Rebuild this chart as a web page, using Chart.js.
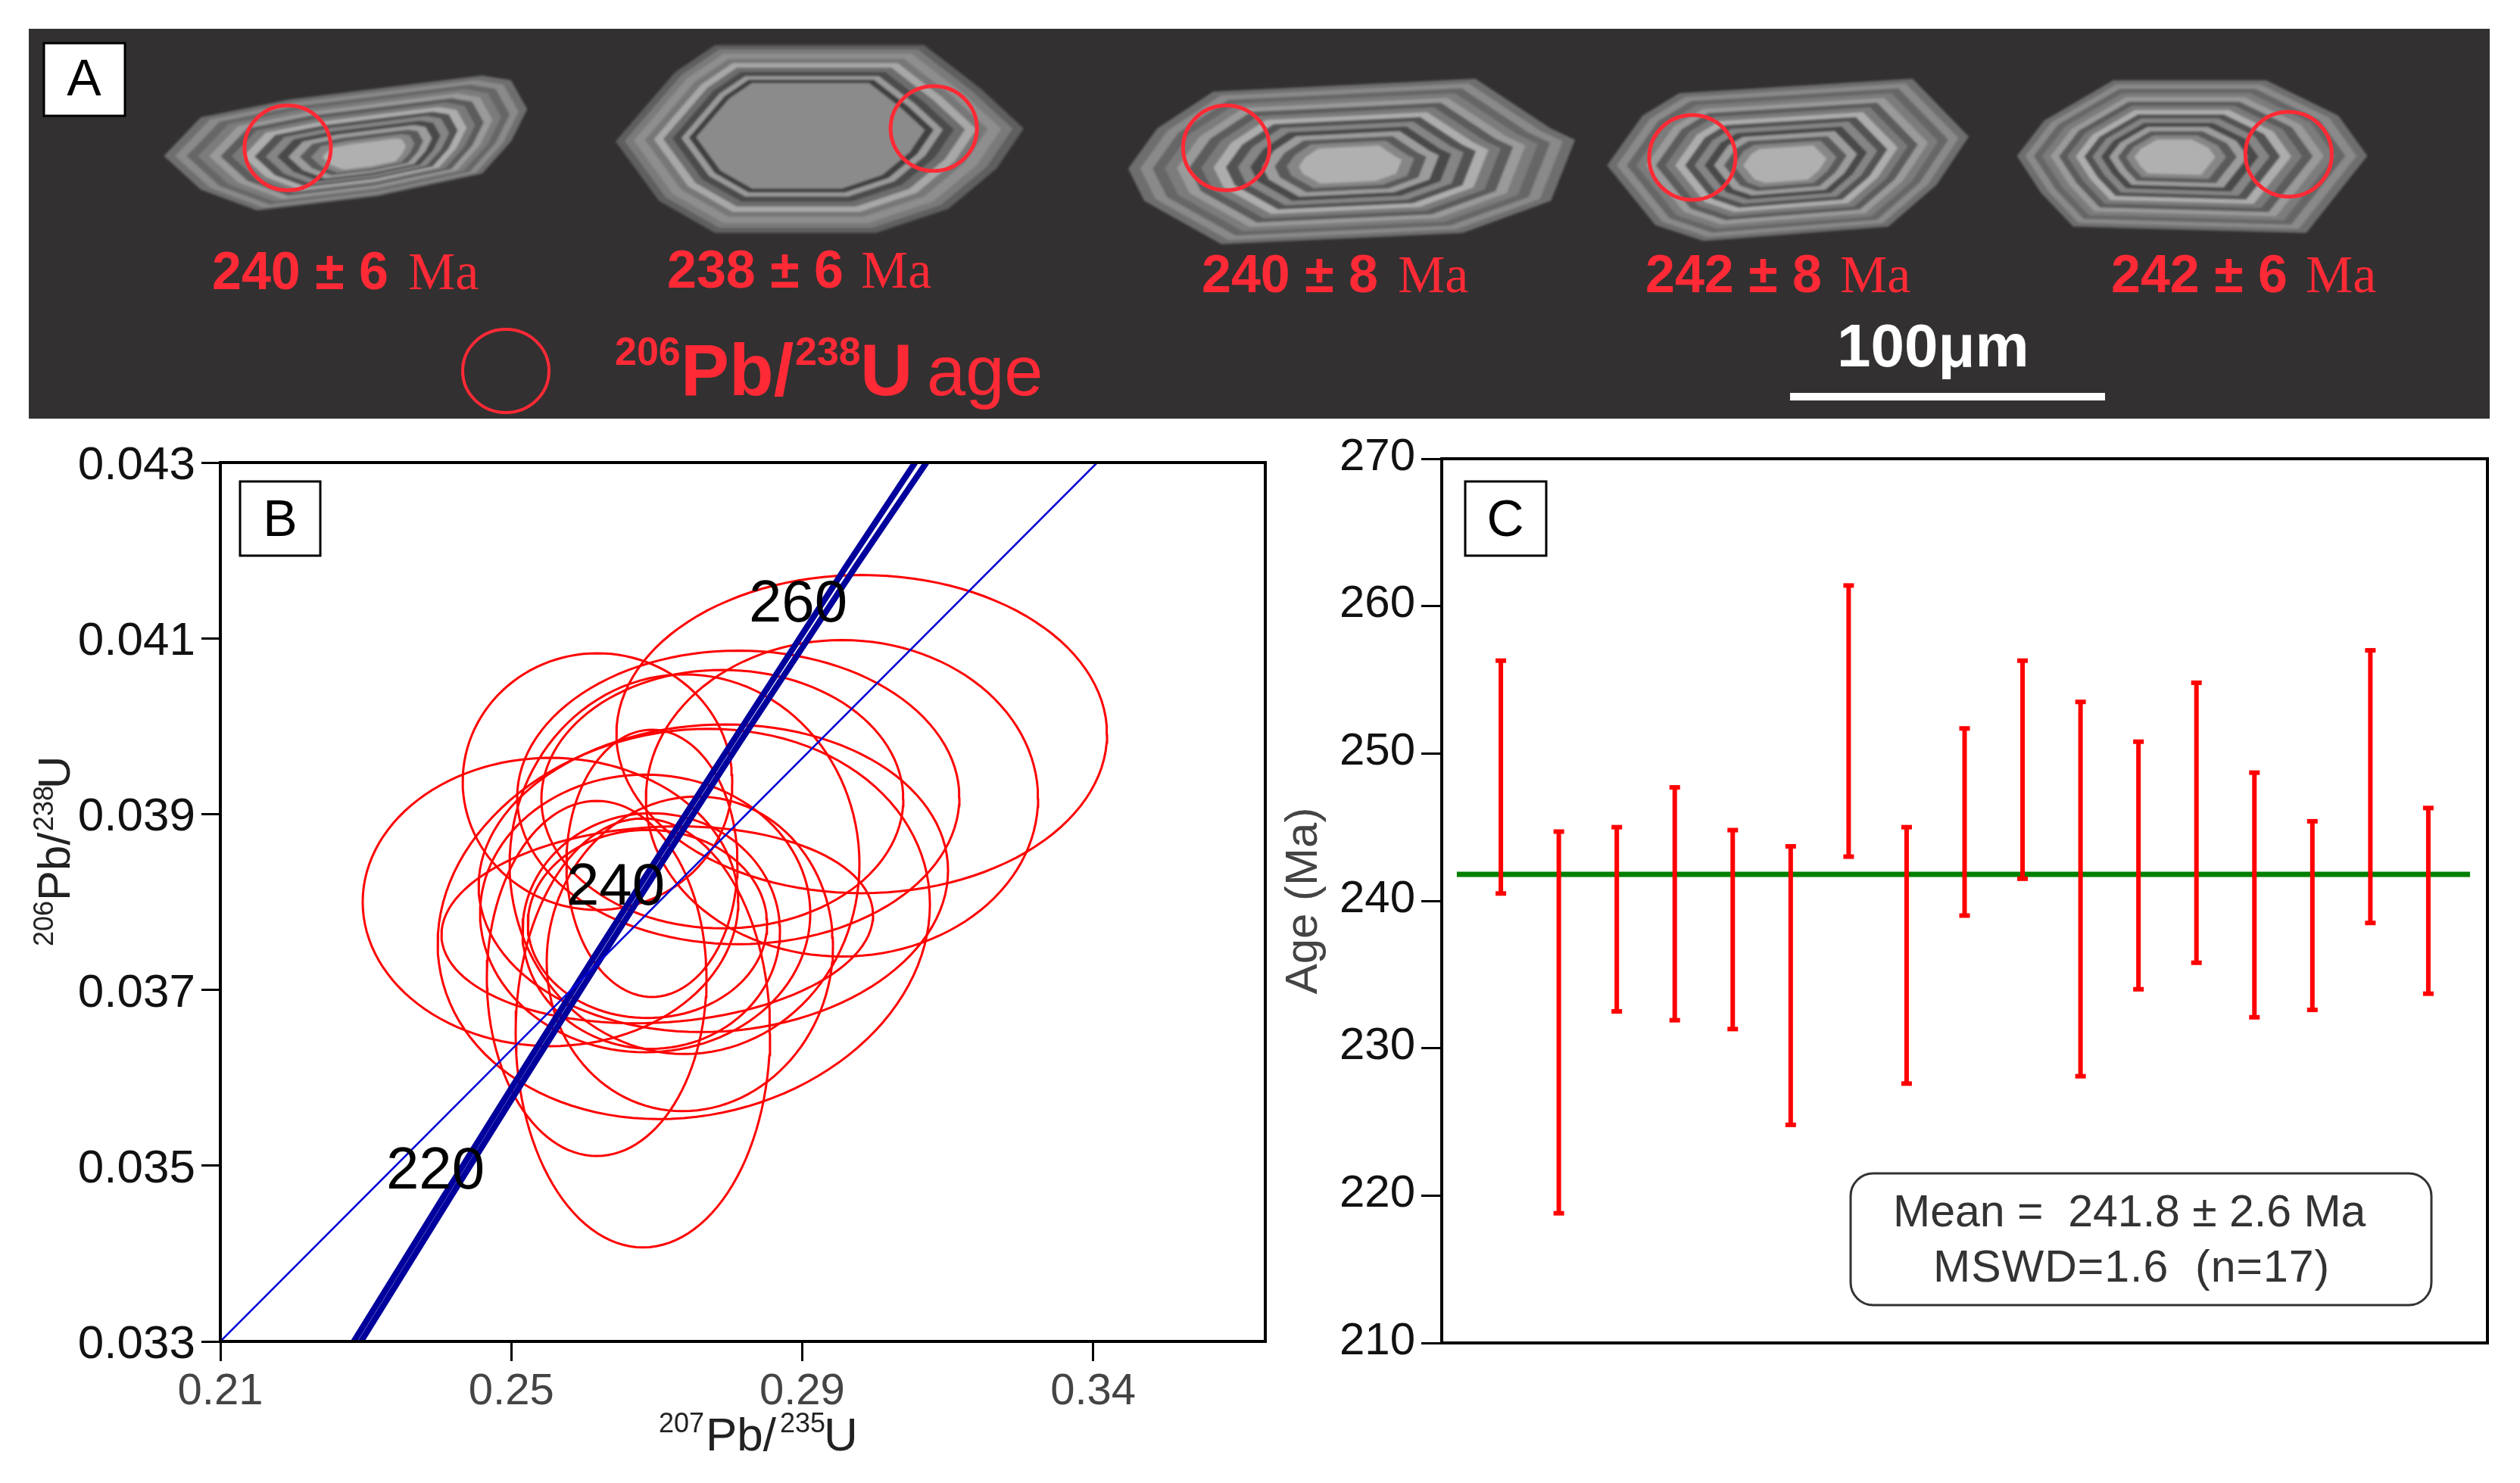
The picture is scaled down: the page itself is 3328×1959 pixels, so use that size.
<!DOCTYPE html>
<html>
<head>
<meta charset="utf-8">
<title>Zircon U-Pb</title>
<script src="https://cdn.jsdelivr.net/npm/chart.js@4"></script>
<style>
html, body { margin: 0; padding: 0; background: #fff; width: 3328px; height: 1959px; overflow: hidden; }
canvas { position: absolute; display: block; }
#chartB { left: 0; top: 560px; }
#chartC { left: 1680px; top: 560px; }
#overlay { position: absolute; left: 0; top: 0; pointer-events: none; font-family: "Liberation Sans", Arial, sans-serif; }
</style>
</head>
<body>
<canvas id="chartB" width="1700" height="1399"></canvas>
<canvas id="chartC" width="1648" height="1399"></canvas>
<svg id="overlay" width="3328" height="1959" viewBox="0 0 3328 1959" xmlns="http://www.w3.org/2000/svg">
  <defs><filter id="soft"><feGaussianBlur stdDeviation="1.8"/></filter></defs>
  <rect x="38" y="38" width="3250" height="515" fill="#333031"/>
  <g id="grains" filter="url(#soft)"></g>
  <g id="spots" fill="none" stroke="#ff2a35" stroke-width="5"></g>
  <rect x="58" y="57" width="107" height="96" fill="#fff" stroke="#000" stroke-width="3"/>
  <text x="111" y="126" font-size="68" text-anchor="middle">A</text>

  <g fill="#ff2a35" id="ages"></g>

  <ellipse cx="668" cy="490" rx="57" ry="55" fill="none" stroke="#ff2a35" stroke-width="4"/>
  <g fill="#ff2a35">
    <text x="812" y="482" font-size="52" font-weight="bold">206</text>
    <text x="899" y="522" font-size="96" font-weight="bold">Pb/</text>
    <text x="1050" y="482" font-size="52" font-weight="bold">238</text>
    <text x="1136" y="522" font-size="96" font-weight="bold">U</text>
    <text x="1224" y="522" font-size="92">age</text>
  </g>
  <text x="2426" y="484" font-size="80" font-weight="bold" fill="#fff">100μm</text>
  <rect x="2364" y="519" width="416" height="10" fill="#fff"/>

  <rect x="317" y="636" width="106" height="98" fill="#fff" stroke="#000" stroke-width="3"/>
  <text x="370" y="708" font-size="68" text-anchor="middle">B</text>
  <text font-size="78" text-anchor="middle" x="575" y="1570">220</text>
  <text font-size="78" text-anchor="middle" x="813" y="1195">240</text>
  <text font-size="78" text-anchor="middle" x="1054" y="821">260</text>
  <g transform="translate(92,1250) rotate(-90)" fill="#222">
    <text x="0" y="-22" font-size="36">206</text>
    <text x="60" y="0" font-size="60">Pb/</text>
    <text x="152" y="-22" font-size="36">238</text>
    <text x="208" y="0" font-size="60">U</text>
  </g>
  <g fill="#222">
    <text x="870" y="1892" font-size="36">207</text>
    <text x="932" y="1916" font-size="62">Pb/</text>
    <text x="1030" y="1892" font-size="36">235</text>
    <text x="1088" y="1916" font-size="62">U</text>
  </g>

  <rect x="1935" y="636" width="107" height="98" fill="#fff" stroke="#000" stroke-width="3"/>
  <text x="1988" y="708" font-size="68" text-anchor="middle">C</text>
  <rect x="2444" y="1550" width="767" height="174" rx="30" ry="30" fill="#fff" stroke="#333" stroke-width="3"/>
  <text x="2500" y="1620" font-size="59" fill="#333" xml:space="preserve">Mean =  241.8 ± 2.6 Ma</text>
  <text x="2553" y="1693" font-size="59" letter-spacing="1" fill="#333" xml:space="preserve">MSWD=1.6  (n=17)</text>
</svg>
<script>
// panel B, concordia diagram
const concordiaY = [0.033, 0.03464, 0.03588, 0.03734, 0.03846, 0.03979, 0.04182, 0.043];
const concordiaLeftX = [0.22834, 0.24063, 0.25000, 0.26112, 0.26976, 0.28017, 0.29606, 0.30552];
const concordiaRightX = [0.22934, 0.24163, 0.25100, 0.26216, 0.27080, 0.28121, 0.29738, 0.30708];
const chordX = [0.21, 0.33056];
const chordY = [0.033, 0.043];

const ellipseCenterX = [0.29818, 0.29547, 0.28121, 0.26185, 0.27902, 0.27382, 0.25539, 0.26809, 0.26174,
    0.27372, 0.27455, 0.27778, 0.27007, 0.26841, 0.26924, 0.26872, 0.26934];
const ellipseCenterY = [0.03991, 0.03918, 0.03919, 0.03937, 0.03917, 0.03843, 0.03800, 0.03651, 0.03713,
    0.03775, 0.03741, 0.03827, 0.03774, 0.03787, 0.03767, 0.03775, 0.03844];
const ellipseSigmaX = [0.03373, 0.02696, 0.03040, 0.01853, 0.02488, 0.02405, 0.02582, 0.01749, 0.01510,
    0.03384, 0.01968, 0.03227, 0.02967, 0.02270, 0.01770, 0.01645, 0.01176];
const ellipseSigmaY = [0.00181, 0.00180, 0.00167, 0.00146, 0.00147, 0.00216, 0.00164, 0.00244, 0.00202,
    0.00222, 0.00179, 0.00175, 0.00112, 0.00158, 0.00134, 0.00107, 0.00152];
const ellipseRho = [0, 0, 0, 0, 0, 0, 0, 0, 0, 0.1, 0.05, 0.05, 0.1, 0, 0, 0, 0];

const xTickValues = [0.21, 0.25, 0.29, 0.33];
const xTickLabels = ["0.21", "0.25", "0.29", "0.34"];

// panel C, ages
const spotNumber = [1, 2, 3, 4, 5, 6, 7, 8, 9, 10, 11, 12, 13, 14, 15, 16, 17];
const ageHigh = [256.3, 244.7, 245.0, 247.7, 244.8, 243.7, 261.4, 245.0, 251.7, 256.3, 253.5, 250.8, 254.8, 248.7, 245.4, 257.0, 246.3];
const ageLow = [240.5, 218.8, 232.5, 231.9, 231.3, 224.8, 243.0, 227.6, 239.0, 241.5, 228.1, 234.0, 235.8, 232.1, 232.6, 238.5, 233.7];
const meanX = [0.24, 17.72];
const meanAge = [241.8, 241.8];

// panel A, picture
const grainOutlines = [
    [[102,97],[125,73],[180,62],[300,47],[318,50],[328,68],[318,88],[300,108],[235,122],[160,131],[125,118]],
    [[383,88],[420,45],[445,28],[575,28],[610,55],[637,80],[620,105],[590,130],[545,145],[445,145],[410,125]],
    [[702,105],[720,80],[755,57],[918,49],[965,80],[980,87],[965,125],[910,145],[760,152],[712,125]],
    [[1000,103],[1022,72],[1045,58],[1190,49],[1225,85],[1205,115],[1175,141],[1060,150],[1030,140]],
    [[1255,97],[1272,75],[1315,50],[1410,50],[1455,72],[1473,97],[1435,145],[1290,141],[1270,120]]
];
const grainCores = [[230,98],[497,82],[840,103],[1110,103],[1350,98]];
const ringColors = ["#6e6e6e", "#8a8a8a", "#666", "#7c7c7c", "#9a9a9a", "#5c5c5c", "#7a7a7a", "#adadad", "#525252", "#858585", "#4a4a4a", "#9c9c9c", "#5a5a5a", "#868686", "#b0b0b0"];
const paleCoreColors = ["#5f5f5f", "#7a7a7a", "#8e8e8e", "#777", "#a8a8a8", "#6d6d6d", "#4c4c4c", "#9a9a9a", "#3f3f3f", "#8b8b8b"];
const paleCoreScale = [1, 0.95, 0.9, 0.84, 0.79, 0.74, 0.69, 0.64, 0.6, 0.56];
const spotCenters = [[179,92],[581,80],[763,92],[1053,98],[1424,96]];
const ageNumbers = ["240 ± 6", "238 ± 6", "240 ± 8", "242 ± 8", "242 ± 6"];
const ageNumberX = [280, 881, 1587, 2173, 2788];
const ageUnitX = [539, 1137, 1846, 2430, 3045];
const ageBaseline = [382, 380, 386, 386, 386];

const SVG_NS = "http://www.w3.org/2000/svg";
const K = 3328 / 1568;

function svgEl(parent, name, attrs, text) {
    const el = document.createElementNS(SVG_NS, name);
    for (const a in attrs) el.setAttribute(a, attrs[a]);
    if (text) el.textContent = text;
    parent.appendChild(el);
}

grainOutlines.forEach((outline, g) => {
    const cx = grainCores[g][0], cy = grainCores[g][1];
    const colors = g === 1 ? paleCoreColors : ringColors;
    colors.forEach((color, i) => {
        const f = g === 1 ? paleCoreScale[i] : 1 - i * 0.055;
        const pts = outline.map(p => ((cx + (p[0] - cx) * f) * K) + "," + ((cy + (p[1] - cy) * f) * K)).join(" ");
        svgEl(document.getElementById("grains"), "polygon", { points: pts, fill: color });
    });
});
spotCenters.forEach(c => {
    svgEl(document.getElementById("spots"), "ellipse", { cx: c[0] * K, cy: c[1] * K, rx: 57, ry: 56 });
});
ageNumbers.forEach((t, i) => {
    const g = document.getElementById("ages");
    svgEl(g, "text", { x: ageNumberX[i], y: ageBaseline[i], "font-size": 70, "font-weight": "bold" }, t);
    svgEl(g, "text", { x: ageUnitX[i], y: ageBaseline[i], "font-size": 70, "font-family": "Liberation Serif" }, "Ma");
});

// outline of an error ellipse from its centre, half widths and correlation
function ellipseOutline(i) {
    const pts = [];
    for (let a = 0; a <= 120; a++) {
        const t = a / 120 * 2 * Math.PI;
        pts.push({
            x: ellipseCenterX[i] + ellipseSigmaX[i] * Math.cos(t),
            y: ellipseCenterY[i] + ellipseSigmaY[i] * Math.sin(t + Math.asin(ellipseRho[i]))
        });
    }
    return pts;
}

const framePlugin = {
    id: "frame",
    afterDraw(chart) {
        const a = chart.chartArea, c = chart.ctx;
        c.save();
        c.strokeStyle = "#000";
        c.lineWidth = 4;
        c.strokeRect(a.left, a.top, a.right - a.left, a.bottom - a.top);
        c.restore();
    }
};

const lineSet = (data, color, width) => ({
    data: data, showLine: true, borderColor: color, borderWidth: width, pointRadius: 0, tension: 0, fill: false
});

const bDatasets = [
    lineSet(chordX.map((x, i) => ({ x: x, y: chordY[i] })), "#0000d8", 2.5),
    lineSet(concordiaY.map((y, i) => ({ x: concordiaLeftX[i], y: y })), "#00009c", 8),
    lineSet(concordiaY.map((y, i) => ({ x: concordiaRightX[i], y: y })), "#00009c", 8)
];
ellipseCenterX.forEach((v, i) => bDatasets.push(lineSet(ellipseOutline(i), "#ff0000", 3)));

new Chart(document.getElementById("chartB"), {
    type: "scatter",
    data: { datasets: bDatasets },
    plugins: [framePlugin],
    options: {
        responsive: false,
        animation: false,
        devicePixelRatio: 1,
        layout: { padding: { top: 51, right: 29, bottom: 0, left: 0 } },
        plugins: { legend: { display: false }, tooltip: { enabled: false } },
        scales: {
            x: {
                type: "linear", min: 0.21, max: 0.35367,
                afterBuildTicks: s => { s.ticks = xTickValues.map(v => ({ value: v })); },
                afterFit: s => { s.height = 187; },
                grid: { drawOnChartArea: false, color: "#000", lineWidth: 3, tickLength: 26 },
                border: { color: "#000", width: 4 },
                ticks: {
                    autoSkip: false, maxRotation: 0, padding: 6, color: "#444",
                    font: { family: "Liberation Sans", size: 58 },
                    callback: (v, i) => xTickLabels[i]
                }
            },
            y: {
                type: "linear", min: 0.033, max: 0.043,
                afterFit: s => { s.width = 291; },
                grid: { drawOnChartArea: false, color: "#000", lineWidth: 3, tickLength: 25 },
                border: { color: "#000", width: 4 },
                ticks: {
                    stepSize: 0.002, padding: 8, color: "#111", labelOffset: 5,
                    font: { family: "Liberation Sans", size: 62 },
                    callback: v => v.toFixed(3)
                }
            }
        }
    }
});

const errorBars = [];
spotNumber.forEach((n, i) => {
    errorBars.push({ x: n, y: ageLow[i] }, { x: n, y: ageHigh[i] }, { x: n, y: null });
});

new Chart(document.getElementById("chartC"), {
    type: "scatter",
    data: {
        datasets: [
            {
                data: errorBars, showLine: true, spanGaps: false, borderColor: "#ff0000", borderWidth: 6,
                pointStyle: "line", pointRadius: 7, pointBorderColor: "#ff0000", pointBorderWidth: 6, tension: 0
            },
            lineSet(meanX.map((x, i) => ({ x: x, y: meanAge[i] })), "#008000", 7)
        ]
    },
    plugins: [framePlugin],
    options: {
        responsive: false,
        animation: false,
        devicePixelRatio: 1,
        layout: { padding: { top: 46, right: 43, bottom: 0, left: 0 } },
        plugins: { legend: { display: false }, tooltip: { enabled: false } },
        scales: {
            x: {
                type: "linear", min: -0.02, max: 18.02,
                afterFit: s => { s.height = 185; },
                grid: { display: false },
                border: { color: "#000", width: 4 },
                ticks: { display: false }
            },
            y: {
                type: "linear", min: 210, max: 270,
                afterFit: s => { s.width = 224; },
                title: {
                    display: true, text: "Age (Ma)", color: "#444", padding: { top: 6, bottom: 0 },
                    font: { family: "Liberation Sans", size: 60 }
                },
                grid: { drawOnChartArea: false, color: "#000", lineWidth: 3, tickLength: 27 },
                border: { color: "#000", width: 4 },
                ticks: {
                    stepSize: 10, padding: 8, color: "#111", labelOffset: -2,
                    font: { family: "Liberation Sans", size: 60 }
                }
            }
        }
    }
});
</script>
</body>
</html>
